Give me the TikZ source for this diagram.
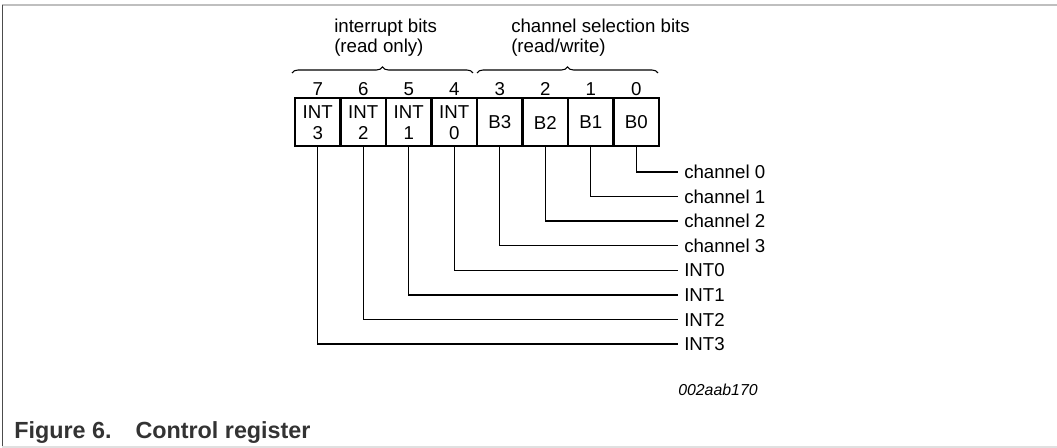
\documentclass[tikz,border=0pt]{standalone}
\usepackage{fontspec}
\setmainfont{Liberation Sans}
\usetikzlibrary{positioning, decorations.pathreplacing}

\begin{document}
\begin{tikzpicture}[x=0.75pt,y=-0.75pt,
  cell/.style={draw,line width=1.5pt,minimum width=34.1pt,minimum height=36pt,inner sep=0pt,outer sep=0pt,align=center,font=\fontsize{14}{15.5}\selectfont},
  num/.style={inner sep=0pt,outer sep=0pt,text height=10pt,text depth=0pt,font=\fontsize{14}{16}\selectfont},
  lab/.style={anchor=west,inner xsep=4.5pt,inner ysep=0pt,text height=10pt,text depth=0pt,font=\fontsize{14}{16}\selectfont},
  head/.style={anchor=north west,inner sep=0pt,align=left,font=\fontsize{14}{14.8}\selectfont},
  wire/.style={line width=1pt},
  brc/.style={decorate,decoration={brace,amplitude=4.5pt},line width=0.8pt}]
\useasboundingbox (0,0) rectangle (1057,448);
\draw[line width=1.5pt,black!25](2,5)--(1057,5);
\draw[line width=1.2pt,black!70](2.5,5)--(2.5,448);
\draw[line width=1.5pt,black!12](2,447)--(1057,447);
\node[head](ib) at (334,18.5){interrupt bits\\(read only)};
\node[head](cs) at (511,18.5){channel selection bits\\(read/write)};
\draw[brc](292,73)--(473,73);
\draw[brc](477,73)--(658,73);
\foreach \b/\t in {7/{INT\\3},6/{INT\\2},5/{INT\\1},4/{INT\\0},3/B3,2/B2,1/B1,0/B0}{
  \node[cell](c\b) at ({317.75+45.5*(7-\b)},122.5){\t};
  \node[num,above=2.5pt of c\b](n\b){\b};
}
\foreach \k/\t in {0/channel 0,1/channel 1,2/channel 2,3/channel 3,4/INT0,5/INT1,6/INT2,7/INT3}{
  \node[lab](l\k) at (678,{172+24.57*\k}){\t};
  \draw[wire](c\k.south)|-(l\k.west);
}
\node[anchor=base west,inner sep=0pt,font=\fontsize{11.9}{14}\selectfont\itshape](id) at (678,396){002aab170};
\node[anchor=base west,inner sep=0pt,font=\fontsize{17.5}{20}\selectfont\bfseries,text=black!80](cap) at (14,439){Figure 6.\hspace{18pt}Control register};
\end{tikzpicture}
\end{document}
